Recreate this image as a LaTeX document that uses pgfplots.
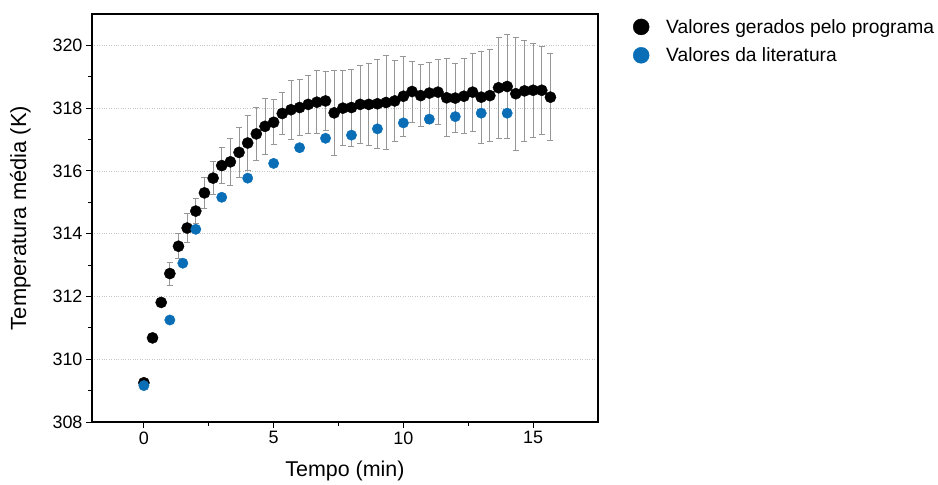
\documentclass[border=0pt]{standalone}
\usepackage{pgfplots}
\pgfplotsset{compat=1.18}
\usepackage{fontspec}
\setmainfont{Liberation Sans}
\definecolor{litblue}{RGB}{10,110,182}
\definecolor{errgray}{RGB}{150,150,150}
\begin{document}
\begin{tikzpicture}
\useasboundingbox (-92bp,-63bp) rectangle (846bp,422bp);
\begin{axis}[
  scale only axis, width=506bp, height=408bp,
  xmin=-2, xmax=17.5, ymin=308, ymax=321,
  xtick={0,5,10,15}, minor xtick={2.5,7.5,12.5},
  ytick={308,310,...,320}, minor ytick={309,311,...,319},
  tick align=outside, major tick length=6bp, minor tick length=3.5bp,
  xtick pos=bottom, ytick pos=left,
  ymajorgrids, grid style={dotted, gray!45, line width=0.6bp},
  axis line style={line width=1.3bp},
  every tick/.style={black, line width=1bp},
  ticklabel style={font=\fontsize{18}{20}\selectfont},
  /pgf/number format/assume math mode=true,
  /pgf/number format/1000 sep={},
  xlabel={Tempo (min)}, ylabel={Temperatura média (K)},
  xlabel style={font=\fontsize{21.5}{24}\selectfont},
  ylabel style={font=\fontsize{22}{24}\selectfont},
  ylabel shift=15bp, xlabel shift=10bp,
  legend style={at={(rel axis cs:1,1)}, anchor=north west, xshift=32bp, yshift=-1bp,
    draw=none, fill=none, font=\fontsize{19.3}{22}\selectfont, row sep=9bp, column sep=15bp},
  legend image post style={mark size=8bp},
  legend cell align=left,
]
\addplot+[only marks, mark=*, mark size=5.6bp, black, mark options={fill=black, draw=black},
  error bars/.cd, y dir=both, y explicit,
  error bar style={errgray, line width=0.8bp},
  error mark options={rotate=90, errgray, mark size=3bp, line width=0.8bp}]
coordinates {
(0,309.25) +- (0,0.05)
(0.333,310.68) +- (0,0.05)
(0.667,311.81) +- (0,0.08)
(1.0,312.73) +- (0,0.37)
(1.333,313.60) +- (0,0.40)
(1.667,314.18) +- (0,0.46)
(2.0,314.72) +- (0,0.40)
(2.333,315.30) +- (0,0.50)
(2.667,315.77) +- (0,0.53)
(3.0,316.17) +- (0,0.58)
(3.333,316.29) +- (0,0.74)
(3.667,316.59) +- (0,0.80)
(4.0,316.89) +- (0,0.88)
(4.333,317.18) +- (0,0.85)
(4.667,317.42) +- (0,0.88)
(5.0,317.55) +- (0,0.72)
(5.333,317.83) +- (0,0.67)
(5.667,317.95) +- (0,0.94)
(6.0,318.02) +- (0,0.90)
(6.333,318.12) +- (0,0.93)
(6.667,318.19) +- (0,1.00)
(7.0,318.23) +- (0,0.95)
(7.333,317.85) +- (0,1.36)
(7.667,318.00) +- (0,1.20)
(8.0,318.02) +- (0,1.23)
(8.333,318.12) +- (0,1.25)
(8.667,318.12) +- (0,1.31)
(9.0,318.14) +- (0,1.42)
(9.333,318.18) +- (0,1.50)
(9.667,318.23) +- (0,1.30)
(10.0,318.38) +- (0,1.28)
(10.333,318.53) +- (0,0.97)
(10.667,318.40) +- (0,0.99)
(11.0,318.48) +- (0,0.97)
(11.333,318.51) +- (0,1.03)
(11.667,318.33) +- (0,1.24)
(12.0,318.32) +- (0,1.09)
(12.333,318.38) +- (0,1.19)
(12.667,318.51) +- (0,1.24)
(13.0,318.35) +- (0,1.46)
(13.333,318.40) +- (0,1.47)
(13.667,318.65) +- (0,1.61)
(14.0,318.69) +- (0,1.66)
(14.333,318.46) +- (0,1.80)
(14.667,318.55) +- (0,1.61)
(15.0,318.57) +- (0,1.49)
(15.333,318.57) +- (0,1.41)
(15.667,318.35) +- (0,1.39)
};
\addlegendentry{Valores gerados pelo programa}
\addplot+[only marks, mark=*, mark size=5.2bp, litblue, mark options={fill=litblue, draw=litblue}]
coordinates {
(0,309.16) (1,311.25) (1.5,313.06) (2,314.14) (3,315.16) (4,315.77)
(5,316.24) (6,316.74) (7,317.04) (8,317.14) (9,317.34) (10,317.53)
(11,317.65) (12,317.73) (13,317.84) (14,317.84)
};
\addlegendentry{Valores da literatura}
\end{axis}
\end{tikzpicture}
\end{document}
